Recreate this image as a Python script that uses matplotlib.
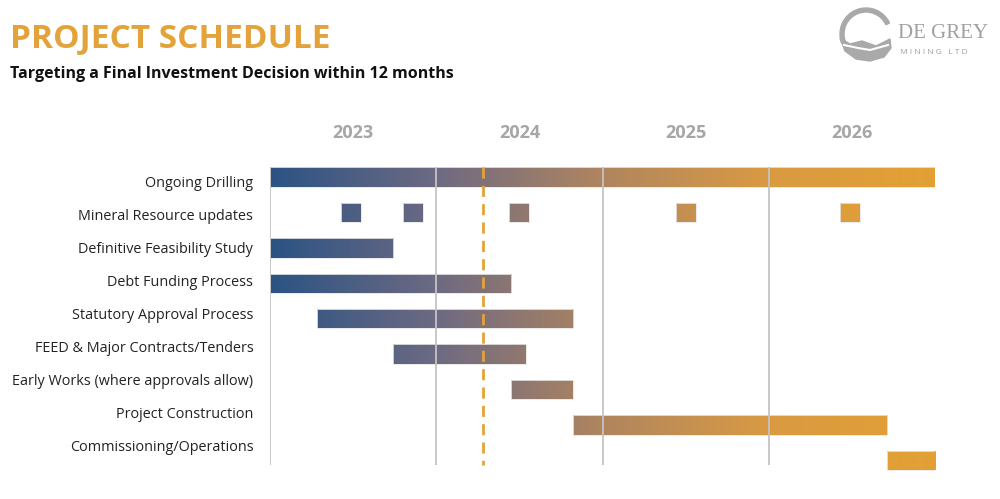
import numpy as np
import matplotlib
matplotlib.use("Agg")
import matplotlib.pyplot as plt
from matplotlib.colors import LinearSegmentedColormap
from matplotlib.patches import Rectangle, Wedge, Polygon

plt.rcParams['font.family'] = ['Open Sans', 'DejaVu Sans']

# данные графика
tasks = ["Ongoing Drilling", "Mineral Resource updates", "Definitive Feasibility Study",
         "Debt Funding Process", "Statutory Approval Process", "FEED & Major Contracts/Tenders",
         "Early Works (where approvals allow)", "Project Construction", "Commissioning/Operations"]
starts = [2023.0, None, 2023.0, 2023.0, 2023.28, 2023.74, 2024.45, 2024.82, 2026.71]
ends = [2027.0, None, 2023.74, 2024.45, 2024.82, 2024.54, 2024.82, 2026.71, 2027.0]
mru_starts = [2023.43, 2023.80, 2024.44, 2025.44, 2026.43]
mru_len = 0.12
years = [2023, 2024, 2025, 2026]
fid_date = 2024.28

cmap = LinearSegmentedColormap.from_list("dg", [(0, "#2B5384"), (0.25, "#6E6A82"),
                                                (0.5, "#B0855F"), (0.75, "#D99A42"),
                                                (1, "#E3A134")])
orange = "#E3A33A"
h = 0.55

fig = plt.figure(figsize=(10, 4.99), dpi=100)
ax = fig.add_axes([0.27, 1 - 472 / 499, 0.665, (472 - 160) / 499])

grad = np.linspace(0, 1, 256).reshape(1, -1)


def bar(y, x0, x1):
    # градиент общий для всей оси, обрезается прямоугольником полосы
    im = ax.imshow(grad, cmap=cmap, extent=(2023, 2027, y - h / 2, y + h / 2),
                   aspect='auto', zorder=2)
    clip = Rectangle((x0, y - h / 2), x1 - x0, h, transform=ax.transData)
    im.set_clip_path(clip)
    ax.add_patch(Rectangle((x0, y - h / 2), x1 - x0, h, fill=False,
                           ec="#e6e6e6", lw=0.6, zorder=3))


for i, (s, e) in enumerate(zip(starts, ends)):
    if s is not None:
        bar(i, s, e)
for s in mru_starts:
    bar(1, s, s + mru_len)

# сетка по годам поверх полос
ax.vlines(years, -0.27, 8.14, color="#c4c4c4", lw=1.3, zorder=4)
ax.vlines([fid_date], -0.27, 8.14, color=orange, lw=2, linestyles=(0, (4, 2.6)), zorder=5)

ax.set_xlim(2023, 2027)
ax.set_ylim(8.33, -0.48)
for sp in ax.spines.values():
    sp.set_visible(False)

ax.xaxis.tick_top()
ax.set_xticks([y + 0.5 for y in years])
ax.set_xticklabels([str(y) for y in years], fontsize=13, fontweight='bold', color="#A6A6A6")
ax.tick_params(axis='x', length=0, pad=13)

ax.set_yticks([0.14 + 0.93 * i for i in range(len(tasks))])
ax.set_yticklabels(tasks, fontsize=10.4, color="#222222")
ax.tick_params(axis='y', length=0, pad=12)

fig.text(0.01, 1 - 47 / 499, "PROJECT SCHEDULE", fontsize=24, fontweight='bold',
         color=orange, va='baseline')
fig.text(0.01, 1 - 78 / 499, "Targeting a Final Investment Decision within 12 months",
         fontsize=11.5, fontweight='bold', color="#111111", va='baseline')

# логотип
lax = fig.add_axes([0.83, 1 - 70 / 499, 0.17, 70 / 499])
lax.set_xlim(0, 170)
lax.set_ylim(0, 70)
lax.axis('off')
lax.add_patch(Wedge((36, 36), 26, 25, 200, width=4, color="#a9a9a9"))
lax.add_patch(Polygon([(10, 32), (20, 26), (32, 29), (46, 24), (60, 31), (61, 22), (54, 13),
                       (40, 9), (26, 11), (15, 19)], closed=True, color="#a9a9a9"))
lax.plot([14, 28, 40, 58], [25, 22, 20, 25], color="white", lw=1.5)
lax.text(68, 36, "DE GREY", fontsize=15, color="#a0a0a0", va='center', family='Liberation Serif')
lax.text(70, 18, "M I N I N G   L T D", fontsize=6, color="#a0a0a0", va='center')

fig.savefig("out.png", dpi=100, facecolor="white")
